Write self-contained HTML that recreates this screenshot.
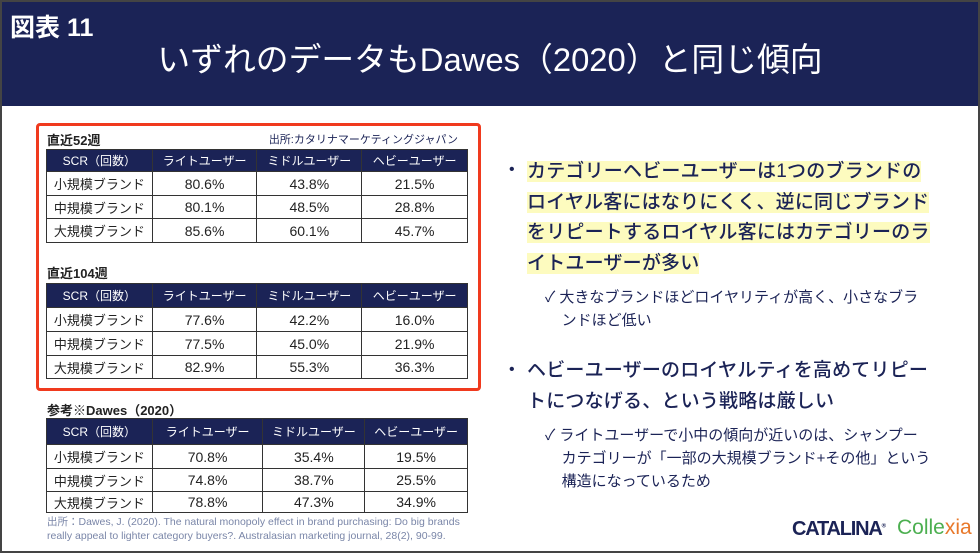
<!DOCTYPE html>
<html><head><meta charset="utf-8"><style>
*{margin:0;padding:0;box-sizing:border-box}
body{width:980px;height:553px;position:relative;overflow:hidden;background:#fff;font-family:"Liberation Sans","Noto Sans CJK JP",sans-serif;color:#1b2356}
.frame{position:absolute;left:0;top:0;width:980px;height:553px;border:2px solid #444;pointer-events:none}
.hdr{position:absolute;left:0;top:0;width:980px;height:106px;background:#1b2356}
.abs{position:absolute;white-space:nowrap}
table{position:absolute;border-collapse:collapse;font-size:14px;color:#222}
td,th{border:1px solid #333;text-align:center;font-weight:normal;padding:0}
th{background:#1b2356;color:#fff;font-size:12px}
.lbl{font-size:13px;font-weight:bold;color:#222}
.b{font-size:19px;font-weight:500;color:#1b2356;line-height:30.5px;letter-spacing:0.2px}
.hl{background:#fdfbbf}
.c{font-size:15px;color:#1b2356;line-height:23px}
</style></head><body>
<div class="hdr"></div>
<div class="abs" style="left:10px;top:8px;color:#fff;font-size:25px;font-weight:bold">図表 11</div>
<div class="abs" style="left:0;width:980px;text-align:center;top:34px;color:#fff;font-size:32.8px">いずれのデータもDawes（2020）と同じ傾向</div>

<div class="abs" style="left:36px;top:123px;width:445px;height:268px;border:3px solid #f03a1e;border-radius:4px"></div>

<div class="abs lbl" style="left:47px;top:130px">直近52週</div>
<div class="abs" style="right:522px;top:131px;font-size:11px;color:#1b2356">出所:カタリナマーケティングジャパン</div>
<table style="left:46px;top:149px;width:422px">
<colgroup><col style="width:106px"><col style="width:105px"><col style="width:105px"><col style="width:106px"></colgroup>
<tr style="height:22px"><th>SCR（回数）</th><th>ライトユーザー</th><th>ミドルユーザー</th><th>ヘビーユーザー</th></tr>
<tr style="height:24px"><td style="font-size:13px">小規模ブランド</td><td>80.6%</td><td>43.8%</td><td>21.5%</td></tr>
<tr style="height:23px"><td style="font-size:13px">中規模ブランド</td><td>80.1%</td><td>48.5%</td><td>28.8%</td></tr>
<tr style="height:24px"><td style="font-size:13px">大規模ブランド</td><td>85.6%</td><td>60.1%</td><td>45.7%</td></tr>
</table>

<div class="abs lbl" style="left:47px;top:263px">直近104週</div>
<table style="left:46px;top:283px;width:422px">
<colgroup><col style="width:106px"><col style="width:105px"><col style="width:105px"><col style="width:106px"></colgroup>
<tr style="height:24px"><th>SCR（回数）</th><th>ライトユーザー</th><th>ミドルユーザー</th><th>ヘビーユーザー</th></tr>
<tr style="height:24px"><td style="font-size:13px">小規模ブランド</td><td>77.6%</td><td>42.2%</td><td>16.0%</td></tr>
<tr style="height:24px"><td style="font-size:13px">中規模ブランド</td><td>77.5%</td><td>45.0%</td><td>21.9%</td></tr>
<tr style="height:23px"><td style="font-size:13px">大規模ブランド</td><td>82.9%</td><td>55.3%</td><td>36.3%</td></tr>
</table>

<div class="abs lbl" style="left:47px;top:400px">参考※Dawes（2020）</div>
<table style="left:46px;top:418px;width:422px">
<colgroup><col style="width:106px"><col style="width:111px"><col style="width:102px"><col style="width:103px"></colgroup>
<tr style="height:26px"><th>SCR（回数）</th><th>ライトユーザー</th><th>ミドルユーザー</th><th>ヘビーユーザー</th></tr>
<tr style="height:24px"><td style="font-size:13px">小規模ブランド</td><td>70.8%</td><td>35.4%</td><td>19.5%</td></tr>
<tr style="height:23px"><td style="font-size:13px">中規模ブランド</td><td>74.8%</td><td>38.7%</td><td>25.5%</td></tr>
<tr style="height:21px"><td style="font-size:13px">大規模ブランド</td><td>78.8%</td><td>47.3%</td><td>34.9%</td></tr>
</table>
<div class="abs" style="left:47px;top:516px;font-size:10.5px;line-height:13.5px;color:#7a86a8">出所：Dawes, J. (2020). The natural monopoly effect in brand purchasing: Do big brands<br>really appeal to lighter category buyers?. Australasian marketing journal, 28(2), 90-99.</div>

<div class="abs" style="left:509px;top:161px;font-size:16px">•</div>
<div class="abs b" style="left:527px;top:157px"><span class="hl">カテゴリーヘビーユーザーは1つのブランドの</span><br><span class="hl">ロイヤル客にはなりにくく、逆に同じブランド</span><br><span class="hl">をリピートするロイヤル客にはカテゴリーのラ</span><br><span class="hl">イトユーザーが多い</span></div>
<div class="abs c" style="left:545px;top:286px">✓ 大きなブランドほどロイヤリティが高く、小さなブラ<br>&nbsp;&nbsp;&nbsp;&nbsp;ンドほど低い</div>

<div class="abs" style="left:509px;top:361px;font-size:16px">•</div>
<div class="abs b" style="left:527px;top:356px">ヘビーユーザーのロイヤルティを高めてリピー<br>トにつなげる、という戦略は厳しい</div>
<div class="abs c" style="left:545px;top:424px">✓ ライトユーザーで小中の傾向が近いのは、シャンプー<br>&nbsp;&nbsp;&nbsp;&nbsp;カテゴリーが「一部の大規模ブランド+その他」という<br>&nbsp;&nbsp;&nbsp;&nbsp;構造になっているため</div>

<div class="abs" style="left:792px;top:518px;font-size:20px;font-weight:bold;color:#1b2356;letter-spacing:-1.2px">CATALINA<sup style="font-size:6px">®</sup></div>
<div class="abs" style="left:897px;top:516px;font-size:21px;color:#4caf50">Colle<span style="color:#e8782a">xia</span></div>
<div class="frame"></div>
</body></html>
